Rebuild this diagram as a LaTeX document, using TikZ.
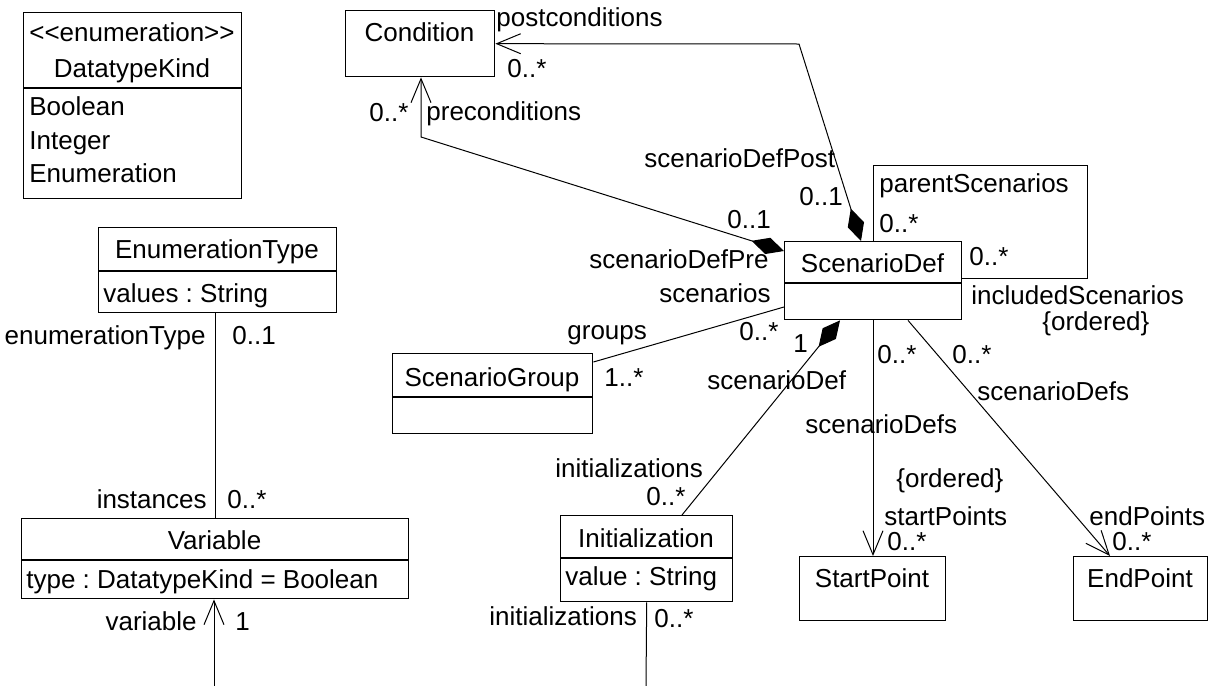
\documentclass[tikz,border=0pt]{standalone}
\usepackage{fontspec}
\setmainfont{Liberation Sans}
\usetikzlibrary{arrows.meta}
\frenchspacing
\begin{document}
\begin{tikzpicture}[x=0.5pt,y=-0.5pt,
  every node/.style={font=\fontsize{13}{15}\selectfont},
  cls/.style={draw, line width=0.7pt, fill=white, inner sep=0pt, anchor=north west},
  divider/.style={line width=0.7pt},
  assoc/.style={line width=0.5pt, line join=miter},
  txt/.style={inner sep=0pt, anchor=base},
  txtw/.style={inner sep=0pt, anchor=base west},
  txte/.style={inner sep=0pt, anchor=base east},
  >={Straight Barb[length=12pt,width=10pt]},
  comp/.tip={Diamond[length=17pt,width=8.5pt]}
]
% canvas
\fill[white] (0,0) rectangle (1212,686);
\useasboundingbox (0,0) rectangle (1212,686);

% ---------- classes ----------
% DatatypeKind enumeration
\node[cls, minimum width=109pt, minimum height=93pt] (dk) at (23,12) {};
\draw[divider] (dk.west |- 0,88) -- (dk.east |- 0,88);
\node[txt] (dkst) at (132,41) {<\kern0pt<enumeration>\kern0pt>};
\node[txt] (dkname) at (132,77) {DatatypeKind};
\node[txtw] (dkb) at (29,115) {Boolean};
\node[txtw] (dki) at (29,149) {Integer};
\node[txtw] (dke) at (29,182) {Enumeration};

% Condition
\node[cls, minimum width=74.5pt, minimum height=33pt] (cond) at (345,10) {};
\node[txt] (condname) at (419.5,41) {Condition};

% EnumerationType
\node[cls, minimum width=119pt, minimum height=42.5pt] (et) at (98,227) {};
\draw[divider] (et.west |- 0,271) -- (et.east |- 0,271);
\node[txt] (etname) at (217,258) {EnumerationType};
\node[txtw] (etattr) at (103,302) {values : String};

% Variable
\node[cls, minimum width=193.5pt, minimum height=40pt] (var) at (21,518) {};
\draw[divider] (var.west |- 0,560) -- (var.east |- 0,560);
\node[txt] (varname) at (214.5,549) {Variable};
\node[txtw] (varattr) at (26,588) {type : DatatypeKind = Boolean};

% ScenarioGroup
\node[cls, minimum width=100pt, minimum height=40pt] (sg) at (392,353) {};
\draw[divider] (sg.west |- 0,397) -- (sg.east |- 0,397);
\node[txt] (sgname) at (492,386) {ScenarioGroup};

% ScenarioDef
\node[cls, minimum width=88.5pt, minimum height=39pt] (sd) at (784,241) {};
\draw[divider] (sd.west |- 0,283) -- (sd.east |- 0,283);
\node[txt] (sdname) at (872.5,272) {ScenarioDef};

% Initialization
\node[cls, minimum width=86pt, minimum height=43pt] (init) at (560,515) {};
\draw[divider] (init.west |- 0,558) -- (init.east |- 0,558);
\node[txt] (initname) at (646,547) {Initialization};
\node[txtw] (initattr) at (565,585) {value : String};

% StartPoint, EndPoint
\node[cls, minimum width=73pt, minimum height=32pt] (sp) at (799,556) {};
\node[txt] (spname) at (872,587) {StartPoint};
\node[cls, minimum width=67pt, minimum height=32pt] (ep) at (1073,556) {};
\node[txt] (epname) at (1140,587) {EndPoint};

% free ends of the cut-off associations
\coordinate (varEnd) at (214,686);
\coordinate (initEnd) at (646,686);

% ---------- associations ----------
% EnumerationType -- Variable
\draw[assoc] (et.south -| 215,0) -- (var.north -| 215,0);
% Variable <- (below)
\draw[assoc, <-] (var.south -| 214,0) -- (varEnd);
% Initialization -- (below)
\draw[assoc] (init.south) -- (initEnd);
% postconditions
\draw[assoc, <-comp] (cond.east) -- (799,44) -- (sd.north -| 861,0);
% preconditions
\draw[assoc, <-comp] (cond.south -| 421,0) -- (421,137) -- (sd.west |- 0,251);
% scenarioDef <>-- initializations
\draw[assoc, comp-] (sd.south -| 840,0) -- (init.north -| 682,0);
% groups -- scenarios
\draw[assoc] (sg.east |- 0,362) -- (sd.west |- 0,307);
% startPoints
\draw[assoc, ->] (sd.south -| 873,0) -- (sp.north -| 873,0);
% endPoints
\draw[assoc, ->] (sd.south -| 908,0) -- (ep.north -| 1110,0);
% parentScenarios / includedScenarios self association
\draw[assoc] (sd.north -| 873,0) |- (1087,165) |- (sd.east |- 0,278);

% ---------- role names and multiplicities ----------
\node[txtw] (l1) at (496,26) {postconditions};
\node[txtw] (l2) at (507,77) {0..*};
\node[txtw] (l3) at (426,120) {preconditions};
\node[txtw] (l4) at (369,121) {0..*};
\node[txtw] (l5) at (644,167) {scenarioDefPost};
\node[txtw] (l6) at (799,205) {0..1};
\node[txtw] (l7) at (727,228) {0..1};
\node[txtw] (l8) at (589,268) {scenarioDefPre};
\node[txtw] (l9) at (659,302) {scenarios};
\node[txtw] (l10) at (879,192) {parentScenarios};
\node[txtw] (l11) at (879,232) {0..*};
\node[txtw] (l12) at (969,265) {0..*};
\node[txtw] (l13) at (971,304) {includedScenarios};
\node[txtw] (l14) at (1042,330) {\{ordered\}};
\node[txtw] (l15) at (567,339) {groups};
\node[txtw] (l16) at (739,340) {0..*};
\node[txtw] (l17) at (793,352) {1};
\node[txtw] (l18) at (604,386) {1..*};
\node[txtw] (l19) at (707,389) {scenarioDef};
\node[txtw] (l20) at (877,363) {0..*};
\node[txtw] (l21) at (952,363) {0..*};
\node[txtw] (l22) at (977,400) {scenarioDefs};
\node[txtw] (l23) at (805,433) {scenarioDefs};
\node[txtw] (l24) at (896,487) {\{ordered\}};
\node[txtw] (l25) at (884,525) {startPoints};
\node[txtw] (l26) at (1089,525) {endPoints};
\node[txtw] (l27) at (887,550) {0..*};
\node[txtw] (l28) at (1112,550) {0..*};
\node[txtw] (l29) at (555,477) {initializations};
\node[txtw] (l30) at (646,505) {0..*};
\node[txtw] (l31) at (489,625) {initializations};
\node[txtw] (l32) at (654,627) {0..*};
\node[txte] (l33) at (206,344) {enumerationType};
\node[txtw] (l34) at (232,344) {0..1};
\node[txte] (l35) at (207,508) {instances};
\node[txtw] (l36) at (227,508) {0..*};
\node[txte] (l37) at (197,630) {variable};
\node[txtw] (l38) at (235,630) {1};
\end{tikzpicture}
\end{document}
